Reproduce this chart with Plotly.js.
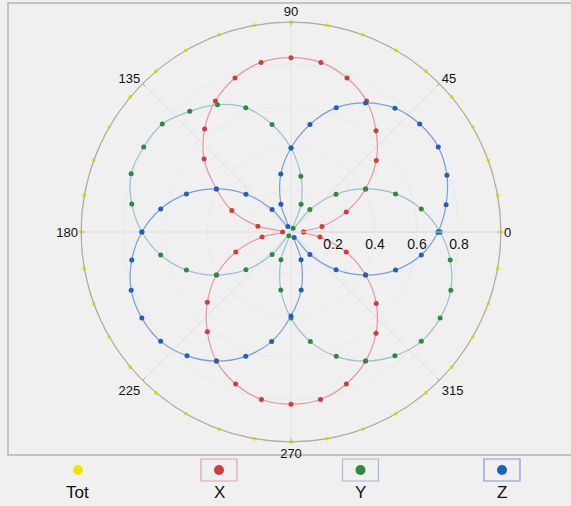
<!DOCTYPE html>
<html>
<head>
<meta charset="utf-8">
<script src="https://cdn.plot.ly/plotly-3.0.1.min.js"></script>
<style>html,body{margin:0;padding:0;background:#f0f0f0;}#chart{width:571px;height:506px;}</style>
</head>
<body>
<div id="chart"></div>
<script>
// angles (degrees), one sample every 10 degrees
const angles = [0,10,20,30,40,50,60,70,80,90,100,110,120,130,140,150,160,170,
                180,190,200,210,220,230,240,250,260,270,280,290,300,310,320,330,340,350];
const seriesNames = ['Tot','X','Y','Z'];
const tot = [1.0,1.0,1.0,1.0,1.0,1.0,1.0,1.0,1.0,1.0,1.0,1.0,1.0,1.0,1.0,1.0,1.0,1.0,
             1.0,1.0,1.0,1.0,1.0,1.0,1.0,1.0,1.0,1.0,1.0,1.0,1.0,1.0,1.0,1.0,1.0,1.0];
const xVals = [0.06,0.15,0.28,0.41,0.53,0.63,0.72,0.78,0.82,0.83,0.82,0.78,0.72,0.64,0.54,0.41,0.30,0.16,
               0.04,0.14,0.28,0.41,0.52,0.62,0.71,0.77,0.81,0.82,0.81,0.77,0.71,0.63,0.53,0.41,0.28,0.14];
const yVals = [0.71,0.63,0.53,0.41,0.28,0.14,0.02,0.14,0.27,0.40,0.52,0.63,0.70,0.75,0.80,0.81,0.81,0.77,
               0.71,0.63,0.53,0.41,0.28,0.14,0.02,0.14,0.28,0.41,0.53,0.63,0.71,0.77,0.81,0.82,0.81,0.77];
const zVals = [0.70,0.75,0.79,0.81,0.80,0.77,0.71,0.63,0.52,0.40,0.28,0.14,0.03,0.14,0.28,0.41,0.53,0.63,
               0.71,0.77,0.81,0.82,0.81,0.77,0.71,0.63,0.53,0.40,0.28,0.14,0.03,0.14,0.28,0.41,0.53,0.63];
const angularTicks = [0,45,90,135,180,225,270,315];
const radialTicks = [0.2,0.4,0.6,0.8];

const markerColors = ['#f2e600','#d83a3a','#2f8a3f','#1f5fc0'];
const lineColors = ['#c8c26a','rgba(225,120,135,0.75)','rgba(130,175,200,0.75)','rgba(80,130,215,0.75)'];
const allVals = [tot, xVals, yVals, zVals];

function closed(a){ return a.concat([a[0]]); }

const traces = allVals.map((vals, i) => ({
  type: 'scatterpolar',
  r: closed(vals),
  theta: closed(angles),
  name: seriesNames[i],
  mode: 'lines+markers',
  line: {color: lineColors[i], width: i === 0 ? 1.5 : 1.2, shape: 'spline', smoothing: 1},
  marker: {color: markerColors[i], size: i === 0 ? 4 : 5},
  showlegend: false,
  hoverinfo: 'skip'
}));

// manual legend (label below marker)
const legendX = [78, 219, 360.5, 502];
const W = 571, H = 506;
const shapes = [{
  type: 'rect', xref: 'paper', yref: 'paper',
  x0: 8/W, x1: 1.02, y0: 1-455/H, y1: 1-3/H,
  line: {color: '#b4b4b4', width: 1.5}, layer: 'below'
}];
const boxColors = [null, '#e3a3b3', '#a9bad9', '#7f98d6'];
const annotations = [];
seriesNames.forEach((n, i) => {
  const px = legendX[i] / W;
  const py = 1 - 470 / H;
  if (boxColors[i]) {
    shapes.push({type: 'rect', xref: 'paper', yref: 'paper', xsizemode: 'pixel', ysizemode: 'pixel',
      xanchor: px, yanchor: py, x0: -18, x1: 18, y0: -11, y1: 11,
      line: {color: boxColors[i], width: 1.2}});
  }
  shapes.push({type: 'circle', xref: 'paper', yref: 'paper', xsizemode: 'pixel', ysizemode: 'pixel',
    xanchor: px, yanchor: py, x0: -5, x1: 5, y0: -5, y1: 5,
    fillcolor: markerColors[i], line: {color: markerColors[i], width: 0}});
  annotations.push({text: n, xref: 'paper', yref: 'paper', x: px, y: 1 - 492 / H,
    xanchor: 'center', yanchor: 'middle', showarrow: false,
    font: {family: 'Liberation Sans, Arial, sans-serif', size: 17, color: '#111'}});
});

const layout = {
  width: W, height: H,
  margin: {l: 0, r: 0, t: 0, b: 0},
  paper_bgcolor: '#f0f0f0',
  showlegend: false,
  font: {family: 'Liberation Sans, Arial, sans-serif', color: '#111'},
  polar: {
    domain: {x: [81/W, 501/W], y: [1-442/H, 1-22/H]},
    bgcolor: '#f0f0f0',
    radialaxis: {
      range: [0, 1.0], angle: 0, tickvals: radialTicks, ticktext: radialTicks.map(v => v.toFixed(1)),
      showline: true, linecolor: '#dadada', linewidth: 1, ticks: '',
      showgrid: true, gridcolor: '#eaeaea', gridwidth: 1,
      tickfont: {size: 14, color: '#111'}
    },
    angularaxis: {
      rotation: 0, direction: 'counterclockwise',
      tickvals: angularTicks, ticktext: angularTicks.map(String),
      showline: true, linecolor: '#a8a8a8', linewidth: 1,
      ticks: 'inside', ticklen: 3, tickcolor: '#a8a8a8',
      showgrid: true, gridcolor: '#e0e0e0', gridwidth: 1,
      tickfont: {size: 13, color: '#111'}
    }
  },
  shapes: shapes,
  annotations: annotations
};

Plotly.newPlot('chart', traces, layout, {displayModeBar: false, staticPlot: true});
</script>
</body>
</html>
